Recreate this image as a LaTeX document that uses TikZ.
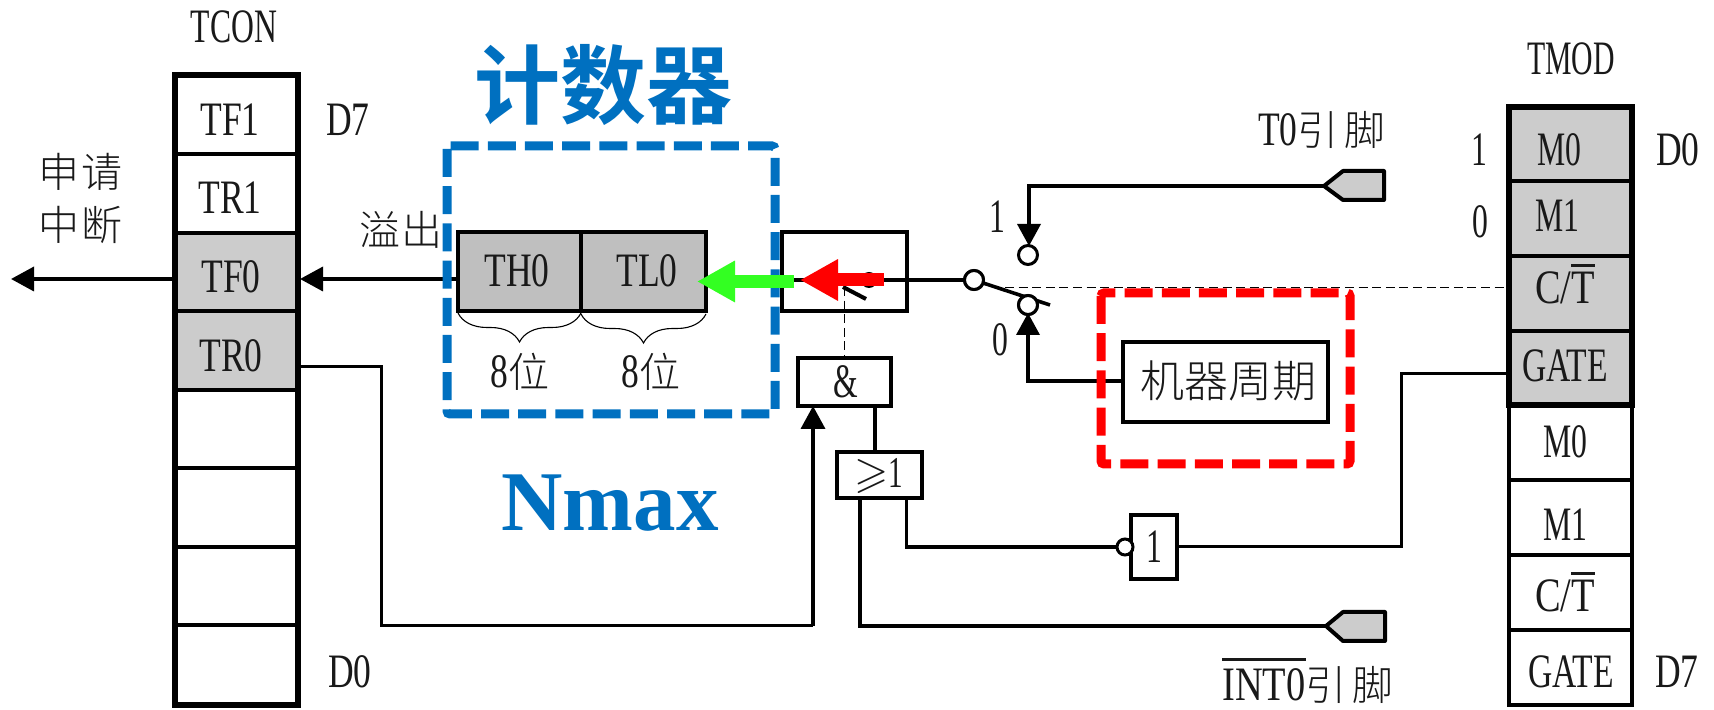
\documentclass[tikz,border=0pt]{standalone}
\usepackage{amssymb}
\usepackage{fontspec}
\setmainfont{Liberation Serif}[FakeStretch=0.66]
\newfontfamily\latw{Liberation Serif}[FakeStretch=0.74]
\newfontfamily\latx{Liberation Serif}[FakeStretch=0.8]
\newfontfamily\latn{Liberation Serif}[FakeStretch=0.62]
\newfontfamily\cjk{Noto Sans CJK SC Light}
\newfontfamily\cjkb{Noto Sans CJK SC Bold}
\usetikzlibrary{arrows.meta,decorations.pathreplacing}
\definecolor{bluebox}{HTML}{0070C0}
\definecolor{cellgray}{HTML}{CCCCCC}
\definecolor{thgray}{HTML}{BFBFBF}
\definecolor{greenarrow}{HTML}{33FF22}
\newcommand\barred[3]{\smash{\vbox{\hrule height #2\kern #1\hbox{#3}}}}
\newcommand\hzs{\cjk\fontsize{20.5}{20.5}\selectfont}
\tikzset{
  txt/.style={inner sep=0pt,outer sep=0pt,font=\fontsize{24}{24}\selectfont,text=black!90},
  txtw/.style={txt,font=\fontsize{24}{24}\selectfont\latw},
  txtx/.style={txt,font=\fontsize{24}{24}\selectfont\latx},
  txtn/.style={txt,font=\fontsize{24}{24}\selectfont\latn},
  hz/.style={txt,font=\hzs},
  cell/.style={draw,line width=1.6pt,inner sep=0pt,outer sep=0pt,minimum width=61.5pt,anchor=north west},
  gray cell/.style={cell,fill=cellgray},
  frame/.style={draw,line width=2.7pt,inner sep=0pt,outer sep=0pt,anchor=north west},
  gatebox/.style={draw,line width=1.6pt,inner sep=0pt,outer sep=0pt,anchor=north west},
  wire/.style={line width=1.8pt,line join=miter},
  thinwire/.style={line width=1.5pt},
  hair/.style={line width=.5pt,dash pattern=on 4.5pt off 2.3pt},
  tip/.style={wire,-{Triangle[length=11.5pt,width=12pt]}},
  fatarrow/.style={line width=6.5pt,-{Triangle[length=19pt,width=19.5pt]}},
  ring/.style={circle,draw,fill=white,line width=1.5pt,minimum size=9.5pt,inner sep=0pt,outer sep=0pt},
  pin/.style={draw,fill=cellgray,line width=2pt,line join=round},
  dashbox/.style={line width=4.5pt,dash pattern=on 14pt off 4.6pt,rounded corners=1.5pt},
  bracket/.style={line width=.55pt,decorate,decoration={brace,amplitude=14.5pt}},
}
\begin{document}
\begin{tikzpicture}[x=.5pt,y=-.5pt]
\useasboundingbox (0,0) rectangle (1714,710);

% ---- TCON register
\node[cell,minimum height=39.5pt] (tf1) at (175,75) {};
\node[cell,minimum height=39.5pt] (tr1) at (175,154) {};
\node[gray cell,minimum height=39pt] (tf0) at (175,233) {};
\node[gray cell,minimum height=39.5pt] (tr0) at (175,311) {};
\node[cell,minimum height=39pt] (c4) at (175,390) {};
\node[cell,minimum height=39.5pt] (c5) at (175,468) {};
\node[cell,minimum height=39pt] (c6) at (175,547) {};
\node[cell,minimum height=40pt] (c7) at (175,625) {};
\node[frame,minimum width=61.5pt,minimum height=315pt] (tcon) at (175,75) {};
\node[txt] (tcont) at (234,27) {TCON};
\node[txtw] (tf1t) at (230,120) {TF1};
\node[txtw] (tr1t) at (230,198) {TR1};
\node[txtw] (tf0t) at (231,277) {TF0};
\node[txtw] (tr0t) at (231,356) {TR0};
\node[txtw] (d7a) at (348,120) {D7};
\node[txtw] (d0a) at (350,672) {D0};
\node[hz] (req1) at (81,172) {申\hspace{1pt}请};
\node[hz] (req2) at (81,225) {中\hspace{1pt}断};
\node[hz] (ovf) at (401,230) {溢\hspace{.5pt}出};

% ---- TMOD register
\node[gray cell,minimum height=37pt] (m0) at (1509,107) {};
\node[gray cell,minimum height=37.5pt] (m1) at (1509,181) {};
\node[gray cell,minimum height=37.5pt] (ct) at (1509,256) {};
\node[gray cell,minimum height=37pt] (gate) at (1509,331) {};
\node[cell,minimum height=37.5pt] (m0b) at (1509,405) {};
\node[cell,minimum height=37.5pt] (m1b) at (1509,480) {};
\node[cell,minimum height=37.5pt] (ctb) at (1509,555) {};
\node[cell,minimum height=37.5pt] (gateb) at (1509,630) {};
\node[frame,minimum width=61.5pt,minimum height=149pt] (tmod) at (1509,107) {};
\node[txtn] (tmodt) at (1571,59) {TMOD};
\node[txt] (m0t) at (1559,150) {M0};
\node[txt] (m1t) at (1557,216) {M1};
\node[txtx] (ctt) at (1565,288) {C/\barred{2.6pt}{1.5pt}{T}};
\node[txt,font=\fontsize{24}{24}\selectfont\addfontfeature{FakeStretch=.7}] (gatet) at (1565,366) {GATE};
\node[txt] (m0bt) at (1565,442) {M0};
\node[txt] (m1bt) at (1565,525) {M1};
\node[txtx] (ctbt) at (1565,596) {C/\barred{2.6pt}{1.5pt}{T}};
\node[txt,font=\fontsize{24}{24}\selectfont\addfontfeature{FakeStretch=.7}] (gatebt) at (1571,672) {GATE};
\node[txt] (one) at (1479,150) {1};
\node[txt] (zero) at (1480,222) {0};
\node[txtw] (d0b) at (1678,150) {D0};
\node[txtw] (d7b) at (1677,672) {D7};

% ---- counter
\node[draw,fill=thgray,line width=2.3pt,inner sep=0,outer sep=0,minimum width=61.5pt,minimum height=39.5pt,anchor=north west] (th) at (458,232) {};
\node[draw,fill=thgray,line width=2.3pt,inner sep=0,outer sep=0,minimum width=62.5pt,minimum height=39.5pt,anchor=north west] (tl) at (581,232) {};
\node[txtw] (tht) at (517,271) {TH0};
\node[txtw] (tlt) at (647,271) {TL0};
\node[txtw] (w1) at (520,372) {8{\hzs 位}};
\node[txtw] (w2) at (651,372) {8{\hzs 位}};
\coordinate (b1l) at (458,313); \coordinate (b1r) at (581,313);
\coordinate (b2l) at (581,314); \coordinate (b2r) at (706,314);
\draw[bracket] (b1r) -- (b1l);
\draw[bracket] (b2r) -- (b2l);

% ---- titles
\node[inner sep=0,text=bluebox,font=\fontsize{43}{43}\selectfont\cjkb] (title) at (603,85) {计数器};
\node[inner sep=0,text=bluebox,font=\fontsize{42.5}{42.5}\selectfont\bfseries\addfontfeature{FakeStretch=1}] (nmax) at (610,503) {Nmax};

% ---- gates and boxes
\node[gatebox,minimum width=62.5pt,minimum height=39.5pt] (sw) at (782,232) {};
\node[gatebox,line width=1.8pt,minimum width=46.5pt,minimum height=24pt] (andg) at (798,358) {};
\node[txt] (andt) at (846,382) {\&};
\node[gatebox,minimum width=42.5pt,minimum height=23pt] (org) at (837,452) {};
\node[txt,font=\fontsize{22}{22}\selectfont] (ort) at (879,476) {$\geqslant$1};
\node[gatebox,minimum width=23pt,minimum height=32pt] (notg) at (1131,515) {};
\node[txt] (nott) at (1154,547) {1};
\node[gatebox,minimum width=102.5pt,minimum height=40pt] (clk) at (1123,342) {};
\node[hz,font=\fontsize{22}{22}\selectfont\cjk] (clkt) at (1228,381) {机器周期};
\node[txt] (sw1) at (997,217) {1};
\node[txt] (sw0) at (1000,340) {0};
\node[txtw] (t0t) at (1322,130) {T0{\hzs 引\hspace{3pt}脚}};
\node[txtx] (intt) at (1308,685) {\barred{4pt}{1.2pt}{INT0}{\hzs 引\hspace{3pt}脚}};

% ---- free ends and bends
\coordinate (reqend) at (11,279); \coordinate (tf0l) at (172,279);
\coordinate (tf0r) at (300,279); \coordinate (thl) at (458,279);
\coordinate (tr0r) at (301,367); \coordinate (bend1) at (381,367); \coordinate (bend2) at (381,626);
\coordinate (bend3) at (813,626); \coordinate (andin) at (813,406);
\coordinate (ando) at (875,406); \coordinate (ori) at (875,452);
\coordinate (oro1) at (860,498); \coordinate (oro1b) at (860,626);
\coordinate (oro2) at (906.5,498); \coordinate (oro2b) at (906.5,547);
\coordinate (gateo) at (1507,374); \coordinate (gateb1) at (1401,374); \coordinate (gateb2) at (1401,547);
\coordinate (noto) at (1177,547);
\coordinate (swin) at (782,280);
\coordinate (ct1) at (1005,288); \coordinate (ct2) at (1507,288);
\coordinate (dash1) at (844,287); \coordinate (dash2) at (844,358);
\coordinate (leverend) at (1050,305);
\coordinate (pin1) at (1324,186); \coordinate (t0b) at (1029,186);
\coordinate (pin2) at (1326,626);
\coordinate (clkl) at (1123,381); \coordinate (clkb) at (1028,381);
\coordinate (g1) at (794,281.5); \coordinate (g2) at (697,281.5);
\coordinate (r1) at (884,280); \coordinate (r2) at (800,280);
\coordinate (c1top) at (1029,246); \coordinate (c0bot) at (1028,313);

% ---- rings
\node[ring] (pivot) at (974,280) {};
\node[ring] (c1) at (1028,255) {};
\node[ring] (c0) at (1028,305) {};
\node[ring,minimum size=8pt] (bub) at (1125,547) {};

% ---- connectors
\draw[tip] (tf0l) -- (reqend);
\draw[tip] (thl) -- (tf0r);
\draw[thinwire] (tr0r) -- (bend1) -- (bend2) -- (bend3);
\draw[tip] (bend3) -- (andin);
\draw[wire] (ando) -- (ori);
\draw[wire] (oro1) -- (oro1b) -- (pin2);
\draw[wire] (oro2) -- (oro2b) -- (bub.west);
\draw[thinwire] (noto) -- (gateb2) -- (gateb1) -- (gateo);
\draw[wire] (swin) -- (pivot.west);
\draw[wire,-{Triangle[length=11pt,width=11.5pt]}] (pin1) -- (t0b) -- (c1top);
\draw[wire,-{Triangle[length=11pt,width=11.5pt]}] (clkl) -- (clkb) -- (c0bot);
\draw[wire] (pivot) -- (leverend);
\node[ring] at (pivot) {};
\node[ring] at (c0) {};
\draw[hair] (ct1) -- (ct2);
\draw[hair] (dash1) -- (dash2);

% ---- pins
\draw[pin] (pin1) -- (1343,171) -- (1384,171) -- (1384,200) -- (1343,200) -- cycle;
\draw[pin] (pin2) -- (1343,612) -- (1385,612) -- (1385,641) -- (1343,641) -- cycle;

% ---- selection boxes
\draw[dashbox,bluebox] (447,146) rectangle (775,414);
\draw[dashbox,red] (1101,293) rectangle (1350,464);

% ---- internal switch in the register box
\fill (869,280) circle (4pt);
\draw[line width=2pt] (843,287) -- (866,299);

% ---- highlighted flow
\draw[fatarrow,greenarrow] (g1) -- (g2);
\draw[fatarrow,red] (r1) -- (r2);
\end{tikzpicture}
\end{document}
